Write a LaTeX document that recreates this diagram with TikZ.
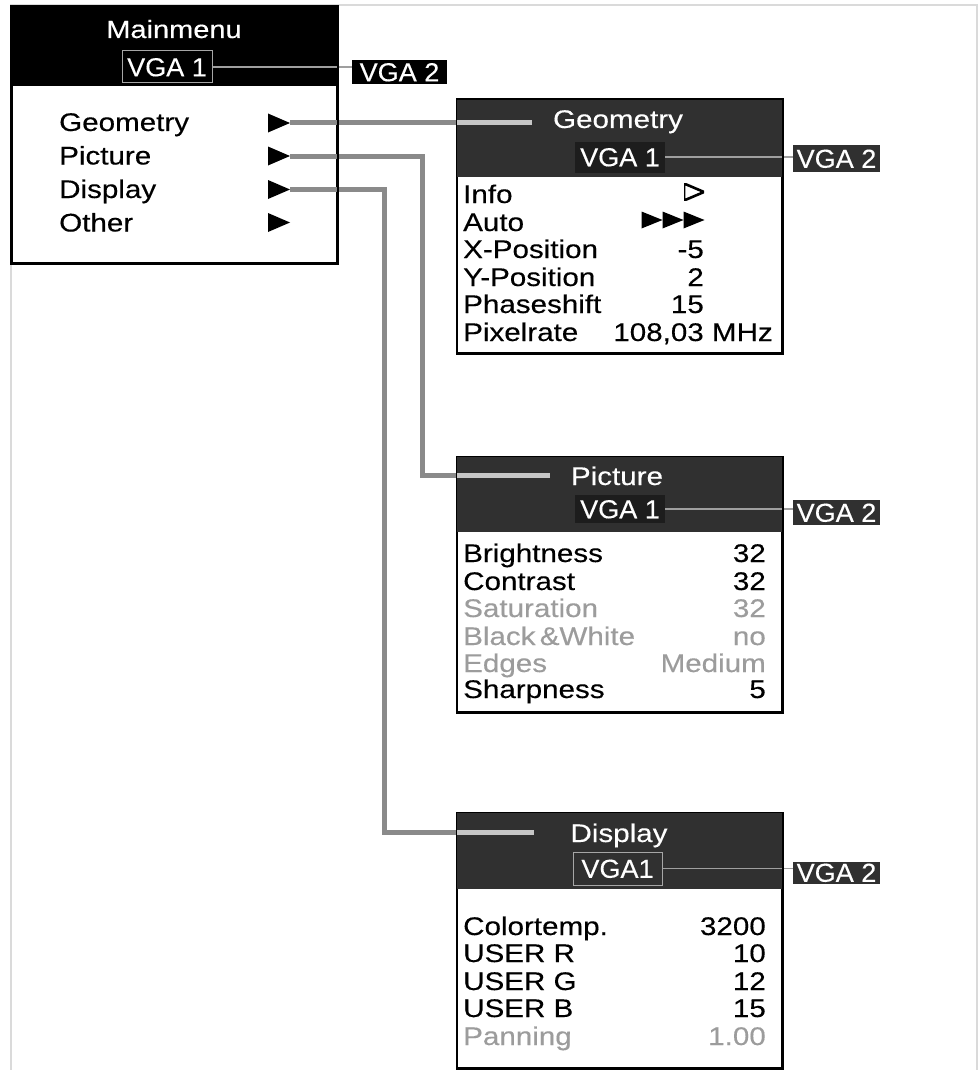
\documentclass[tikz,border=0pt]{standalone}
\usepackage{fontspec}
\setmainfont{Liberation Sans}[FakeStretch=1.16, FakeBold=0.3]
\newfontfamily\vgafont{Liberation Sans}[FakeStretch=1.04, FakeBold=0.3]
\definecolor{hdr}{HTML}{303030}
\definecolor{connc}{HTML}{8A8A8A}
\definecolor{dimc}{HTML}{9C9C9C}
\definecolor{framec}{HTML}{DADADA}
\begin{document}
\begin{tikzpicture}[x=1pt,y=-1pt,
  panel/.style={draw=black, line width=1.5pt, fill=white, inner sep=0pt, minimum width=325pt},
  hdrbox/.style={fill=hdr, inner sep=0pt, minimum width=325pt},
  ttl/.style={text=white, font=\fontsize{25.5}{25.5}\selectfont, anchor=base, inner sep=0pt},
  item/.style={font=\fontsize{25.5}{25.5}\selectfont, anchor=base west, inner sep=0pt},
  val/.style={font=\fontsize{25.5}{25.5}\selectfont, anchor=base east, inner sep=0pt},
  dimmed/.style={text=dimc},
  vgabox/.style={font=\vgafont\fontsize{26}{26}\selectfont, text=white, inner sep=0pt, text height=18.5pt, text depth=0pt},
  tri/.style={rectangle, inner sep=0pt, minimum width=22pt, minimum height=19pt,
    path picture={\fill[black] (path picture bounding box.north west) -- (path picture bounding box.east) -- (path picture bounding box.south west) -- cycle;}},
  otri/.style={rectangle, inner sep=0pt, minimum width=20pt, minimum height=17pt,
    path picture={\draw[black, line width=2.6pt, line join=miter] (path picture bounding box.north west) -- (path picture bounding box.east) -- (path picture bounding box.south west) -- cycle;}},
  connector/.style={draw=connc, line width=5pt},
  vgaline/.style={draw=gray!75, line width=1.2pt},
]
\useasboundingbox (0,0) rectangle (979,1070);
% faint frame of the scan
\draw[framec, line width=1.5pt] (11,1070) -- (11,5) -- (977,5) -- (977,1070);

% ---------------- panels (fills) ----------------
\node[panel, minimum height=256pt] (mb) at (174.5,135) {};
\node[hdrbox, fill=black, minimum height=79pt] (mh) at (174.5,46.5) {};
\node[panel, minimum height=253pt] (gb) at (619.5,226.5) {};
\node[hdrbox, minimum height=77pt] (gh) at (619.5,138.5) {};
\node[panel, minimum height=255pt] (pb) at (619.5,584.5) {};
\node[hdrbox, minimum height=75pt] (ph) at (619.5,494.5) {};
\node[panel, minimum height=255pt] (db) at (619.5,940.5) {};
\node[hdrbox, minimum height=76pt] (dh) at (619.5,851) {};

% ---------------- main menu ----------------
\node[ttl, font=\fontsize{25}{25}\selectfont] (mt) at (174,38) {Mainmenu};
\node[vgabox, fill=black, draw=gray!70, line width=1pt, minimum width=90pt, minimum height=32pt] (mv1) at (167,67) {VGA 1};
\node[vgabox, fill=black, minimum width=95pt, minimum height=24pt] (mv2) at (399.5,72) {VGA 2};
\draw[vgaline] (mv1.east) -- (mv1.east -| mv2.west);

\node[item] (mgeo) at (59,131) {Geometry};
\node[item] (mpic) at (59,164.5) {Picture};
\node[item] (mdis) at (59,198) {Display};
\node[item] (moth) at (59,231.5) {Other};
\node[tri] (tg) at (279,123) {};
\node[tri] (tp) at (279,156) {};
\node[tri] (td) at (279,189.5) {};
\node[tri] (to) at (279,222.5) {};

% ---------------- geometry ----------------
\node[ttl] (gt) at (618,128) {Geometry};
\node[vgabox, fill=hdr!60!black, minimum width=90pt, minimum height=31pt] (gv1) at (620,157) {VGA 1};
\node[vgabox, fill=hdr, minimum width=87pt, minimum height=27pt] (gv2) at (836.5,158.5) {VGA 2};
\draw[vgaline] (gv1.east) -- (gv1.east -| gv2.west);
\node[item] (g1) at (463,203) {Info};
\node[item] (g2) at (463,231) {Auto};
\node[item] (g3) at (463,258) {X-Position};
\node[item] (g4) at (463,286) {Y-Position};
\node[item] (g5) at (463,313) {Phaseshift};
\node[item] (g6) at (463,341) {Pixelrate};
\node[otri] (gi) at (694,192) {};
\node[tri, minimum width=21pt, minimum height=17pt] (ga1) at (652,220) {};
\node[tri, minimum width=21pt, minimum height=17pt] (ga2) at (673,220) {};
\node[tri, minimum width=21pt, minimum height=17pt] (ga3) at (694,220) {};
\node[val] (gx) at (704,258) {-5};
\node[val] (gy) at (704,286) {2};
\node[val] (gp) at (704,313) {15};
\node[val] (gr) at (773,341) {108,03 MHz};

% ---------------- picture ----------------
\node[ttl] (pt) at (617,485) {Picture};
\node[vgabox, fill=hdr!60!black, minimum width=90pt, minimum height=28pt] (pv1) at (620,509) {VGA 1};
\node[vgabox, fill=hdr, minimum width=87pt, minimum height=25pt] (pv2) at (836.5,512.5) {VGA 2};
\draw[vgaline] (pv1.east) -- (pv1.east -| pv2.west);
\node[item] (p1) at (463,562) {Brightness};
\node[item] (p2) at (463,590) {Contrast};
\node[item, dimmed] (p3) at (463,617) {Saturation};
\node[item, dimmed] (p4) at (463,645) {Black\,\&White};
\node[item, dimmed] (p5) at (463,672) {Edges};
\node[item] (p6) at (463,698) {Sharpness};
\node[val] (pv_1) at (766,562) {32};
\node[val] (pv_2) at (766,590) {32};
\node[val, dimmed] (pv_3) at (766,617) {32};
\node[val, dimmed] (pv_4) at (766,645) {no};
\node[val, dimmed] (pv_5) at (766,672) {Medium};
\node[val] (pv_6) at (766,698) {5};

% ---------------- display ----------------
\node[ttl] (dt) at (619,842) {Display};
\node[vgabox, fill=hdr, draw=gray!70, line width=1pt, minimum width=89pt, minimum height=33pt] (dv1) at (617.5,868.5) {VGA1};
\node[vgabox, fill=hdr, minimum width=87pt, minimum height=22pt] (dv2) at (836.5,872.5) {VGA 2};
\draw[vgaline] (dv1.east) -- (dv1.east -| dv2.west);
\node[item] (d1) at (463,935) {Colortemp.};
\node[item] (d2) at (463,962) {USER R};
\node[item] (d3) at (463,990) {USER G};
\node[item] (d4) at (463,1017) {USER B};
\node[item, dimmed] (d5) at (463,1045) {Panning};
\node[val] (dv_1) at (766,935) {3200};
\node[val] (dv_2) at (766,962) {10};
\node[val] (dv_3) at (766,990) {12};
\node[val] (dv_4) at (766,1017) {15};
\node[val, dimmed] (dv_5) at (766,1045) {1.00};

% ---------------- connectors ----------------
\coordinate (gin) at (532,123);
\coordinate (pturn) at (422,475);
\coordinate (pin) at (550,475);
\coordinate (dturn) at (384,832);
\coordinate (din) at (534,832);
\draw[connector] (tg.east) -- (gin);
\draw[connector] (tp.east) -| (pturn) -- (pin);
\draw[connector] (td.east) -| (dturn) -- (din);
\draw[connector, draw=gray!45] (gb.west |- gin) -- (gin);
\draw[connector, draw=gray!45] (pb.west |- pin) -- (pin);
\draw[connector, draw=gray!45] (db.west |- din) -- (din);

% ---------------- borders on top ----------------
\draw[line width=1.8pt] (mb.north west) rectangle (mb.south east);
\draw[line width=1.5pt] (gb.north west) rectangle (gb.south east);
\draw[line width=1.5pt] (pb.north west) rectangle (pb.south east);
\draw[line width=1.5pt] (db.north west) rectangle (db.south east);
\end{tikzpicture}
\end{document}
